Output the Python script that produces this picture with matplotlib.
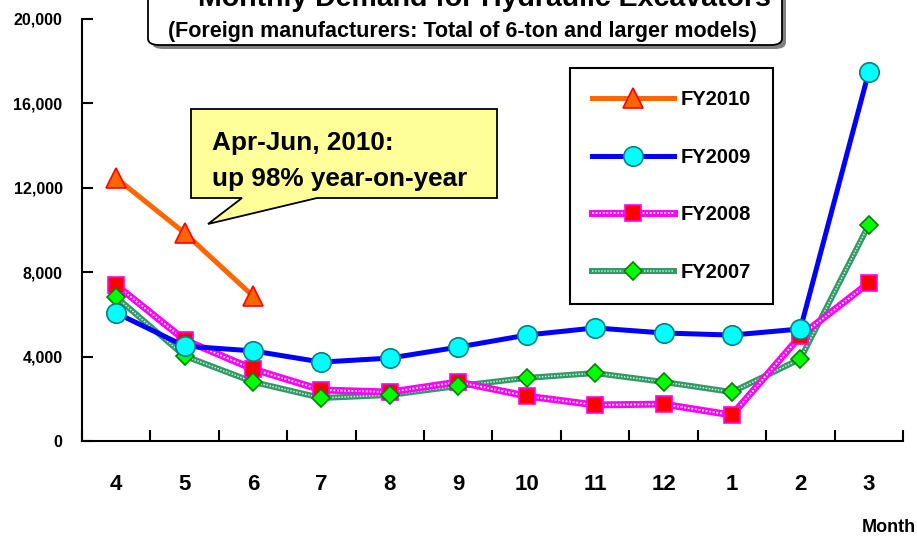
import matplotlib.pyplot as plt
from matplotlib.legend_handler import HandlerTuple
from matplotlib.patches import FancyBboxPatch, Polygon

# Datos (unidades)
meses = ['4', '5', '6', '7', '8', '9', '10', '11', '12', '1', '2', '3']
fy2010 = [12460, 9860, 6870]
fy2009 = [6070, 4500, 4270, 3740, 3930, 4450, 5020, 5360, 5120, 5020, 5310, 17490]
fy2008 = [7390, 4790, 3410, 2420, 2320, 2800, 2130, 1710, 1750, 1230, 4980, 7490]
fy2007 = [6820, 4030, 2800, 2040, 2180, 2610, 2990, 3220, 2800, 2320, 3890, 10240]
yticks = [0, 4000, 8000, 12000, 16000, 20000]

fuente = ['Liberation Sans', 'DejaVu Sans']
plt.rcParams['font.family'] = fuente
plt.rcParams['font.weight'] = 'bold'

fig = plt.figure(figsize=(9.17, 5.36), dpi=100)
ax = fig.add_axes([0.0894, 0.1772, 0.8953, 0.7874])

x = list(range(len(meses)))

# FY2010
l10, = ax.plot(x[:len(fy2010)], fy2010, color='#FF6600', lw=3.6, marker='^', ms=15,
               mfc='#FF6600', mec='#FF0000', mew=1.2, zorder=6)
# FY2009
l09, = ax.plot(x, fy2009, color='#0000FF', lw=3.6, marker='o', ms=14,
               mfc='#00FFFF', mec='#008080', mew=1.2, zorder=5)
# FY2008 (línea tramada)
b08, = ax.plot(x, fy2008, color='#FF00FF', lw=5, zorder=3)
d08, = ax.plot(x, fy2008, color='white', lw=1.3, ls=(0, (1, 1)), zorder=3)
m08, = ax.plot(x, fy2008, ls='none', marker='s', ms=11.5, mfc='#FF0000',
               mec='#FF00FF', mew=1.2, zorder=4)
# FY2007 (línea tramada)
b07, = ax.plot(x, fy2007, color='#339966', lw=4.3, zorder=2)
d07, = ax.plot(x, fy2007, color='#CCEEDD', lw=1.1, ls=(0, (1, 1)), zorder=2)
m07, = ax.plot(x, fy2007, ls='none', marker='D', ms=9, mfc='#00FF00',
               mec='#008000', mew=1.2, zorder=4)

ax.set_xlim(-0.5, len(meses) - 0.5)
ax.set_ylim(0, 20000)
ax.set_yticks(yticks)
ax.set_yticklabels([f'{v:,}' for v in yticks], fontsize=11.5, fontweight='bold')
ax.set_xticks([i + 0.5 for i in range(-1, len(meses))])
ax.set_xticklabels([])
for i, m in enumerate(meses):
    ax.text(i, -0.104, m, transform=ax.get_xaxis_transform(), ha='center',
            va='center', fontsize=16, fontweight='bold')
ax.tick_params(axis='both', direction='in', length=8, width=1.5)
ax.tick_params(axis='y', pad=14)
for s in ['top', 'right']:
    ax.spines[s].set_visible(False)
for s in ['left', 'bottom']:
    ax.spines[s].set_linewidth(1.5)

W, H = 917, 536
fig.text(862 / W, 1 - 527 / H, 'Month', ha='left', va='center', fontsize=13, fontweight='bold')

# Leyenda
leg = ax.legend([(l10,), (l09,), (b08, d08, m08), (b07, d07, m07)],
                ['FY2010', 'FY2009', 'FY2008', 'FY2007'],
                handler_map={tuple: HandlerTuple(ndivide=1)},
                loc='upper left', bbox_to_anchor=(0.594, 0.884),
                prop={'weight': 'bold', 'size': 14.5},
                handlelength=4.1, handletextpad=0.3, labelspacing=1.92,
                borderpad=1.1, borderaxespad=0, fancybox=False,
                edgecolor='black', framealpha=1)
leg.get_frame().set_linewidth(1.5)

# Globo de texto
tr = fig.transFigure
pts = [(191, 109), (497, 109), (497, 198), (317, 198), (208, 224), (242, 198), (191, 198)]
ax.add_patch(Polygon([(px / W, 1 - py / H) for px, py in pts], closed=True,
                     transform=tr, facecolor='#FFFF99', edgecolor='black',
                     lw=1.3, zorder=7, clip_on=False))
fig.text(212 / W, 1 - 150 / H, 'Apr-Jun, 2010:', ha='left', va='baseline',
         fontsize=18.8, fontweight='bold', zorder=8)
fig.text(212 / W, 1 - 186 / H, 'up 98% year-on-year', ha='left', va='baseline',
         fontsize=18.8, fontweight='bold', zorder=8)

# Caja del título
shadow = FancyBboxPatch((152 / W, 1 - 49 / H), 634 / W, 80 / H,
                        boxstyle='round,pad=0,rounding_size=0.012',
                        transform=tr, facecolor='#808080', edgecolor='none', zorder=1)
box = FancyBboxPatch((148 / W, 1 - 45 / H), 634 / W, 80 / H,
                     boxstyle='round,pad=0,rounding_size=0.012',
                     transform=tr, facecolor='white', edgecolor='black', lw=1.3, zorder=2)
fig.patches.extend([shadow, box])
fig.text(484 / W, 1 - 6 / H, 'Monthly Demand for Hydraulic Excavators', ha='center',
         va='baseline', fontsize=20.5, fontweight='bold', zorder=3)
fig.text(462 / W, 1 - 37 / H, '(Foreign manufacturers: Total of 6-ton and larger models)',
         ha='center', va='baseline', fontsize=15.5, fontweight='bold', zorder=3)

fig.savefig('out.png', dpi=100)
